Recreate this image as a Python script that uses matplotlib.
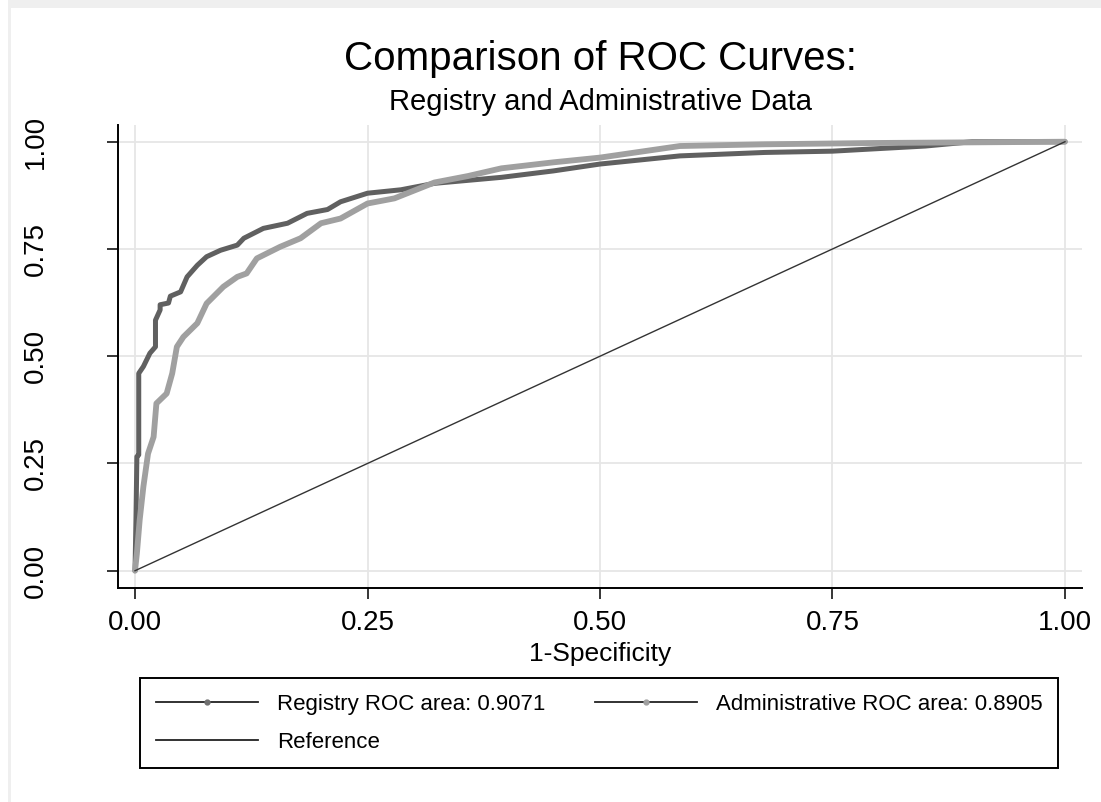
import matplotlib
matplotlib.use("Agg")
import matplotlib.pyplot as plt
from matplotlib.lines import Line2D
from matplotlib.patches import Rectangle

plt.rcParams['font.family'] = ['Liberation Sans', 'DejaVu Sans']

# ---- data ----
reg_fpr = [0, 0.001, 0.002, 0.004, 0.004, 0.009, 0.016, 0.022, 0.022, 0.027,
           0.027, 0.036, 0.038, 0.049, 0.056, 0.067, 0.077, 0.092, 0.110, 0.117,
           0.138, 0.164, 0.185, 0.207, 0.221, 0.250, 0.286, 0.322, 0.358, 0.394,
           0.45, 0.50, 0.586, 0.677, 0.75, 0.783, 0.85, 0.90, 1.0]
reg_tpr = [0, 0.118, 0.266, 0.27, 0.46, 0.476, 0.507, 0.522, 0.584, 0.608,
           0.62, 0.624, 0.64, 0.65, 0.685, 0.712, 0.732, 0.747, 0.759, 0.775,
           0.798, 0.81, 0.833, 0.842, 0.86, 0.88, 0.888, 0.903, 0.910, 0.917,
           0.932, 0.948, 0.967, 0.975, 0.978, 0.982, 0.99, 1.0, 1.0]

adm_fpr = [0, 0.002, 0.005, 0.009, 0.014, 0.020, 0.023, 0.034, 0.040, 0.045,
           0.052, 0.067, 0.077, 0.095, 0.110, 0.120, 0.131, 0.156, 0.178, 0.200,
           0.221, 0.250, 0.279, 0.322, 0.358, 0.394, 0.45, 0.50, 0.586, 0.677,
           0.793, 1.0]
adm_tpr = [0, 0.04, 0.118, 0.196, 0.273, 0.312, 0.39, 0.413, 0.46, 0.522,
           0.545, 0.577, 0.623, 0.662, 0.685, 0.693, 0.728, 0.755, 0.775, 0.81,
           0.821, 0.856, 0.868, 0.905, 0.92, 0.938, 0.952, 0.963, 0.99, 0.994,
           0.997, 1.0]

ref_xy = [0, 1]
ticks = [0, 0.25, 0.5, 0.75, 1.0]
tick_labels = ["0.00", "0.25", "0.50", "0.75", "1.00"]

labels = ["Registry ROC area: 0.9071", "Administrative ROC area: 0.8905", "Reference"]

W, H = 1101, 802
fig = plt.figure(figsize=(W / 100, H / 100), dpi=100)
fig.patch.set_facecolor("white")

# light grey frame strip (top and left) as in the reference
fig.patches.append(Rectangle((8 / W, 1 - 8 / H), 1, 8 / H, transform=fig.transFigure,
                             facecolor="#efefef", edgecolor="none", zorder=0))
fig.patches.append(Rectangle((8 / W, 0), 3 / W, 1, transform=fig.transFigure,
                             facecolor="#efefef", edgecolor="none", zorder=0))

ax = fig.add_axes([118 / W, 1 - 588 / H, (1082 - 118) / W, (588 - 125) / H])

ax.plot(reg_fpr, reg_tpr, color="#606060", lw=3.6, solid_joinstyle="round",
        solid_capstyle="round", zorder=3)
ax.plot(adm_fpr, adm_tpr, color="#a0a0a0", lw=4.2, solid_joinstyle="round",
        solid_capstyle="round", zorder=4)
ax.plot(ref_xy, ref_xy, color="#333333", lw=1.0, zorder=5)

ax.set_xlim(-0.0183, 1.0183)
ax.set_ylim(-0.0403, 1.039)
ax.set_xticks(ticks)
ax.set_xticklabels(tick_labels)
ax.set_yticks(ticks)
ax.set_yticklabels(tick_labels)
ax.grid(True, color="#e6e6e6", lw=1.3)
ax.set_axisbelow(True)

for s in ["top", "right"]:
    ax.spines[s].set_visible(False)
for s in ["left", "bottom"]:
    ax.spines[s].set_linewidth(1.4)
    ax.spines[s].set_color("black")

ax.tick_params(axis="both", direction="out", length=8, width=1.1, colors="black",
               labelsize=20)
ax.tick_params(axis="x", pad=8)
ax.tick_params(axis="y", pad=42, labelrotation=90)
for lab in ax.get_yticklabels():
    lab.set_va("center")

ax.set_xlabel("1-Specificity", fontsize=19, va="baseline")
ax.xaxis.set_label_coords(0.5, -(661 - 588) / (588 - 125))

fig.text(600 / W, 1 - 70 / H, "Comparison of ROC Curves:", fontsize=29,
         ha="center", va="baseline")
fig.text(600 / W, 1 - 110 / H, "Registry and Administrative Data", fontsize=21,
         ha="center", va="baseline")

handles = [
    Line2D([], [], color="#222222", lw=1.3, marker="o", ms=3.5,
           markerfacecolor="#707070", markeredgecolor="#707070", markevery=[1]),
    Line2D([], [], color="#222222", lw=1.3, marker="o", ms=3.5,
           markerfacecolor="#a0a0a0", markeredgecolor="#a0a0a0", markevery=[1]),
    Line2D([], [], color="#222222", lw=1.3),
]
# column-major order for the 2-column legend
leg = fig.legend([handles[0], handles[2], handles[1]],
                 [labels[0], labels[2], labels[1]],
                 ncol=2, loc="upper left",
                 bbox_to_anchor=(140 / W, 1 - 678 / H),
                 bbox_transform=fig.transFigure, borderaxespad=0,
                 fontsize=16, handlelength=4.6, handletextpad=0.85,
                 columnspacing=2.25, labelspacing=0.78, borderpad=0.7,
                 fancybox=False, framealpha=1, edgecolor="black")
leg.get_frame().set_linewidth(1.4)

fig.savefig("out.png", dpi=100)
